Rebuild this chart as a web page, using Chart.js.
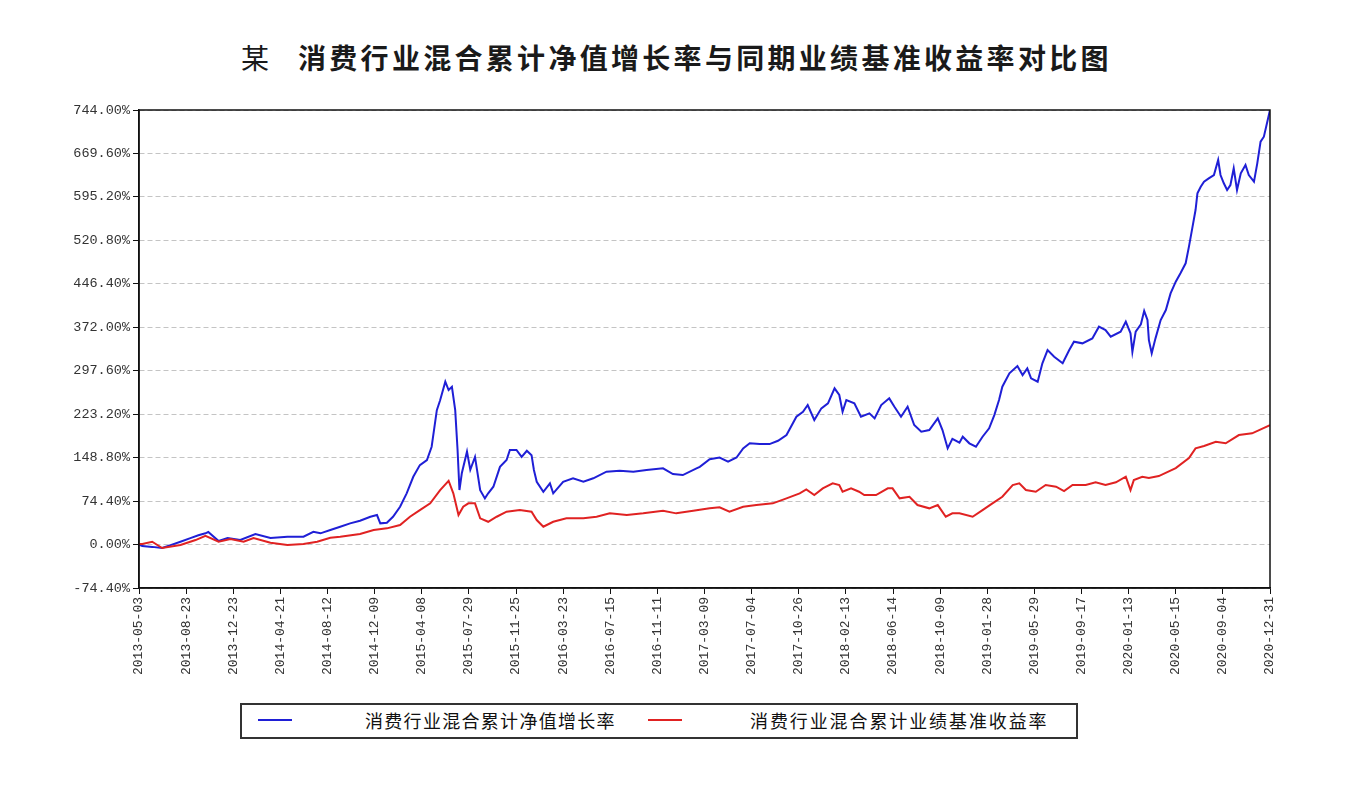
<!DOCTYPE html>
<html>
<head>
<meta charset="utf-8">
<script src="https://cdn.jsdelivr.net/npm/chart.js@4.4.0/dist/chart.umd.min.js"></script>
<style>
  html, body { margin: 0; padding: 0; background: #fff; }
  body { width: 1346px; height: 796px; position: relative; overflow: hidden; font-family: "Noto Sans CJK SC", sans-serif; }
  #chartBox { position: absolute; left: 0; top: 0; width: 1346px; height: 690px; }
  .title { position: absolute; top: 41px; font-size: 28px; line-height: 32px; color: #1a1a1a; white-space: nowrap; }
  #titleA { left: 241px; font-weight: 400; }
  #titleB { left: 298px; font-weight: 700; letter-spacing: 3.3px; }
  #legend { position: absolute; left: 240px; top: 703px; width: 834px; height: 32px; border: 2px solid #333; }
  .lg-line { position: absolute; top: 14px; width: 34px; height: 2px; }
  .lg-text { position: absolute; top: 3px; font-size: 18px; line-height: 24px; color: #111; white-space: nowrap; letter-spacing: 1.3px; }
</style>
</head>
<body>
<div class="title" id="titleA">某</div>
<div class="title" id="titleB">消费行业混合累计净值增长率与同期业绩基准收益率对比图</div>
<div id="chartBox"><canvas id="navChart" width="1346" height="690"></canvas></div>
<div id="legend">
  <div class="lg-line" style="left:16px;background:#1f1fd6"></div>
  <div class="lg-text" style="left:123px">消费行业混合累计净值增长率</div>
  <div class="lg-line" style="left:406px;background:#e02222"></div>
  <div class="lg-text" style="left:508px;letter-spacing:1.9px">消费行业混合累计业绩基准收益率</div>
</div>
<script>
// dates printed under the x axis, evenly spaced
const tickDates = ['2013-05-03', '2013-08-23', '2013-12-23', '2014-04-21', '2014-08-12', '2014-12-09',
  '2015-04-08', '2015-07-29', '2015-11-25', '2016-03-23', '2016-07-15', '2016-11-11', '2017-03-09',
  '2017-07-04', '2017-10-26', '2018-02-13', '2018-06-14', '2018-10-09', '2019-01-28', '2019-05-29',
  '2019-09-17', '2020-01-13', '2020-05-15', '2020-09-04', '2020-12-31'];
const yTickValues = [-74.4, 0, 74.4, 148.8, 223.2, 297.6, 372, 446.4, 520.8, 595.2, 669.6, 744];

// where along the date axis each reading sits (in label intervals) and the value, %
const navPos = [0, 0.07, 0.28, 0.49, 0.67, 0.88, 1.09, 1.26, 1.41, 1.47,
  1.69, 1.88, 2.15, 2.47, 2.79, 3.15, 3.49, 3.70, 3.85, 4.06,
  4.27, 4.48, 4.69, 4.91, 5.05, 5.12, 5.26, 5.39, 5.54, 5.68,
  5.82, 5.96, 6.11, 6.21, 6.32, 6.39, 6.50, 6.57, 6.64, 6.71,
  6.76, 6.80, 6.85, 6.96, 7.03, 7.13, 7.24, 7.34, 7.41, 7.52,
  7.66, 7.80, 7.87, 8.01, 8.12, 8.23, 8.33, 8.38, 8.44, 8.58,
  8.72, 8.79, 9.00, 9.21, 9.43, 9.64, 9.92, 10.20, 10.49, 10.77,
  11.12, 11.33, 11.54, 11.83, 11.90, 12.11, 12.32, 12.50, 12.68, 12.82,
  12.96, 13.17, 13.38, 13.56, 13.74, 13.95, 14.09, 14.19, 14.33, 14.48,
  14.62, 14.76, 14.86, 14.93, 15.01, 15.18, 15.32, 15.50, 15.61, 15.75,
  15.92, 16.03, 16.17, 16.31, 16.45, 16.60, 16.77, 16.95, 17.05, 17.16,
  17.26, 17.41, 17.48, 17.62, 17.76, 17.90, 18.04, 18.15, 18.25, 18.32,
  18.47, 18.64, 18.75, 18.85, 18.93, 19.07, 19.17, 19.28, 19.42, 19.60,
  19.74, 19.84, 20.02, 20.23, 20.37, 20.51, 20.62, 20.83, 20.94, 21.04,
  21.08, 21.15, 21.26, 21.33, 21.40, 21.43, 21.49, 21.57, 21.68, 21.79,
  21.89, 22.00, 22.10, 22.21, 22.28, 22.35, 22.42, 22.46, 22.53, 22.60,
  22.70, 22.81, 22.90, 22.95, 23.02, 23.09, 23.16, 23.23, 23.30, 23.38,
  23.48, 23.55, 23.66, 23.73, 23.80, 23.87, 24];
const navRate = [0, -2.6, -4, -6, -1, 4.8, 11, 16, 19.2, 21.4,
  6, 11.1, 7.7, 18, 11.1, 13.4, 13.4, 21.9, 19.2, 24.8,
  30.5, 36.3, 40.8, 47.6, 50.5, 36.3, 37.3, 47.6, 64.7, 87.7,
  116, 136, 144.7, 167.5, 230, 247, 278.8, 264.6, 270, 230,
  161.8, 93.3, 122, 159, 128, 150, 93, 79, 87.7, 99,
  133, 144.7, 161.8, 162, 150, 160.6, 153, 127.6, 107.5, 90.4,
  104.8, 87.7, 107.5, 113.4, 107.5, 113.4, 124.7, 126.4, 124.7, 127.6,
  130.5, 120.7, 119, 130.5, 133, 146, 149, 141.8, 149, 164.7,
  173.3, 172, 172, 177.7, 187.5, 218.8, 227.4, 238.9, 213.2, 233.2,
  241.8, 267.5, 256, 227.4, 247.4, 241.8, 218.8, 224.7, 216, 238.9,
  250.3, 236, 218.8, 236, 204.6, 193.1, 196, 216, 196, 164.7,
  181, 174.3, 184.6, 173.3, 167.5, 184.6, 199, 221.7, 247.4, 270.2,
  293.1, 305.6, 290.2, 301.7, 284.6, 278.8, 310.3, 333, 321.6, 310.3,
  333, 347.3, 344.5, 353, 373, 367.3, 355.8, 364.4, 381.5, 361.6,
  330, 364.4, 377, 400, 384.4, 350, 327.4, 353, 384.4, 401.5,
  430, 450, 464.4, 481.5, 510, 541.4, 572.8, 601.4, 612.7, 621.2,
  627, 632.7, 658.4, 632.7, 618.5, 607, 615.6, 644.2, 607, 635.6,
  649.8, 632.7, 621.2, 652.7, 689.7, 698.3, 744];

const benchPos = [0, 0.07, 0.28, 0.49, 0.88, 1.20, 1.41, 1.69, 1.94, 2.22,
  2.43, 2.79, 3.15, 3.49, 3.78, 4.06, 4.27, 4.69, 4.98, 5.26,
  5.54, 5.75, 5.96, 6.18, 6.39, 6.57, 6.67, 6.78, 6.88, 6.99,
  7.13, 7.24, 7.41, 7.59, 7.80, 8.08, 8.33, 8.44, 8.58, 8.79,
  9.07, 9.43, 9.71, 9.99, 10.35, 10.70, 11.12, 11.40, 11.76, 12.11,
  12.32, 12.53, 12.82, 13.10, 13.45, 13.74, 14.02, 14.16, 14.33, 14.51,
  14.72, 14.86, 14.93, 15.11, 15.28, 15.39, 15.64, 15.89, 15.99, 16.14,
  16.35, 16.52, 16.77, 16.95, 17.12, 17.26, 17.41, 17.69, 17.90, 18.11,
  18.32, 18.54, 18.68, 18.82, 19.03, 19.24, 19.46, 19.63, 19.81, 20.09,
  20.30, 20.51, 20.73, 20.94, 21.04, 21.11, 21.29, 21.43, 21.64, 22.00,
  22.28, 22.42, 22.60, 22.85, 23.06, 23.34, 23.62, 24];
const benchRate = [0.9, 0.9, 4.8, -6, -0.9, 7.7, 15, 4.8, 9.4, 4.8,
  11.1, 3.1, -0.9, 0.9, 4.8, 11.6, 13.4, 18, 24.8, 27.7,
  33.4, 47.6, 59, 70.5, 93.3, 109.2, 87.7, 50.5, 64.7, 70.5,
  70.5, 44.9, 39, 47.6, 56.2, 59, 56.2, 42, 30.5, 39,
  44.9, 44.9, 47.6, 53.4, 50.5, 53.4, 57.9, 53.4, 57.9, 62,
  63.7, 56.2, 64.7, 67.6, 70.5, 79.1, 87.7, 94.5, 84.8, 96.2,
  104.8, 101.9, 90.4, 96.2, 90.4, 84.8, 84.8, 96.2, 96.2, 79.1,
  81.8, 67.6, 62, 67.6, 47.6, 53.4, 53.4, 47.6, 59, 70.5,
  81.8, 101.9, 104.8, 93.3, 90.4, 101.9, 99, 91.6, 101.9, 101.9,
  106.5, 101.9, 106.5, 116.1, 93.3, 110.4, 116.1, 113.9, 117.3, 131,
  148, 164.7, 168.7, 176, 173.3, 187.5, 190.4, 204.6];

const toPoints = (xs, ys) => xs.map((x, i) => ({ x: x, y: ys[i] }));

// black frame around the plot area (top and right sides)
const frame = {
  id: 'frame',
  afterDraw(chart) {
    const { ctx, chartArea: a } = chart;
    ctx.save();
    ctx.strokeStyle = '#111';
    ctx.lineWidth = 1.5;
    ctx.strokeRect(a.left, a.top, a.right - a.left, a.bottom - a.top);
    ctx.restore();
  }
};

new Chart(document.getElementById('navChart'), {
  type: 'line',
  data: {
    datasets: [{
      label: '消费行业混合累计净值增长率',
      data: toPoints(navPos, navRate),
      borderColor: '#1f1fd6',
      borderWidth: 2,
      pointRadius: 0,
      tension: 0,
      order: 2
    }, {
      label: '消费行业混合累计业绩基准收益率',
      data: toPoints(benchPos, benchRate),
      borderColor: '#e02222',
      borderWidth: 2,
      pointRadius: 0,
      tension: 0,
      order: 1
    }]
  },
  options: {
    responsive: false,
    animation: false,
    layout: { padding: { left: 0, top: 110, right: 76, bottom: 0 } },
    plugins: { legend: { display: false }, tooltip: { enabled: false } },
    scales: {
      x: {
        type: 'linear',
        min: 0,
        max: 24,
        afterBuildTicks: (scale) => { scale.ticks = tickDates.map((d, i) => ({ value: i })); },
        afterFit: (scale) => { scale.height = 102; },
        grid: { drawOnChartArea: false, tickLength: 6, tickColor: '#111', color: '#111' },
        border: { color: '#111', width: 1.5 },
        ticks: {
          autoSkip: false,
          minRotation: 90,
          maxRotation: 90,
          padding: 3,
          color: '#333',
          font: { family: 'Liberation Mono', size: 13 },
          callback: (v) => tickDates[v]
        }
      },
      y: {
        min: -74.4,
        max: 744,
        afterBuildTicks: (scale) => { scale.ticks = yTickValues.map((v) => ({ value: v })); },
        afterFit: (scale) => { scale.width = 139; },
        grid: { color: '#c4c4c4', lineWidth: 1, tickLength: 6, tickColor: '#111', tickBorderDash: [] },
        border: { color: '#111', width: 1.5, dash: [5, 3] },
        ticks: {
          padding: 3,
          color: '#333',
          font: { family: 'Liberation Mono', size: 13.5 },
          callback: (v) => v.toFixed(2) + '%'
        }
      }
    }
  },
  plugins: [frame]
});
</script>
</body>
</html>
